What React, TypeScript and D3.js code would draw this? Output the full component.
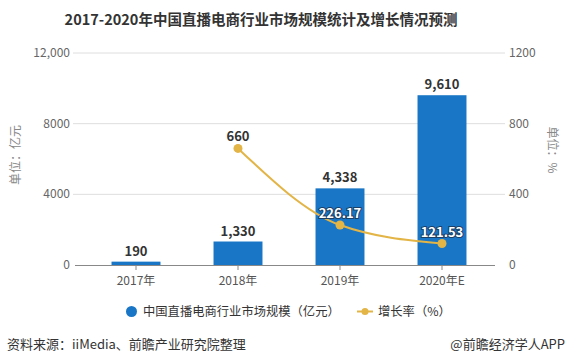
import React from 'react';
import * as d3 from 'd3';

const years = ['2017年', '2018年', '2019年', '2020年E'];
const marketSize = [190, 1330, 4338, 9610];
const growthYears = ['2018年', '2019年', '2020年E'];
const growthRate = [660, 226.17, 121.53];
const leftTicks = [0, 4000, 8000, 12000];
const leftTickLabels = ['0', '4000', '8000', '12,000'];
const rightTicks = [0, 400, 800, 1200];

const W = 567;
const H = 364;
const FONT = '"Noto Sans CJK SC", "Noto Sans", sans-serif';
const BLUE = '#1976c6';
const GOLD = '#e3b446';

const App = () => {
  const x = d3.scaleBand<string>()
    .domain(years)
    .range([85, 493])
    .paddingInner(0.52)
    .paddingOuter(0.26);
  const yLeft = d3.scaleLinear().domain([0, 12000]).range([265, 53]);
  const yRight = d3.scaleLinear().domain([0, 1200]).range([265, 53]);
  const cx = (d: string) => (x(d) as number) + x.bandwidth() / 2;

  const line = d3.line<number>()
    .x((d, i) => cx(growthYears[i]))
    .y(d => yRight(d))
    .curve(d3.curveMonotoneX);

  return (
    <svg width={W} height={H} style={{ position: 'absolute', left: 0, top: 0, background: '#fff' }} fontFamily={FONT}>
      <text x={261} y={25} textAnchor="middle" fontSize={14.5} fontWeight="bold" fill="#333">
        2017-2020年中国直播电商行业市场规模统计及增长情况预测
      </text>

      {/* grid + axis labels */}
      {leftTicks.map((t, i) => (
        <g key={t}>
          {i > 0 && <line x1={73} x2={505} y1={yLeft(t)} y2={yLeft(t)} stroke="#dedede" />}
          <text x={70} y={yLeft(t) + 4} textAnchor="end" fontSize={12} fill="#666">{leftTickLabels[i]}</text>
        </g>
      ))}
      {rightTicks.map(t => (
        <text key={t} x={509} y={yRight(t) + 4} fontSize={12} fill="#666">{t}</text>
      ))}

      <text transform="translate(20,155) rotate(-90)" textAnchor="middle" fontSize={12} fill="#888">单位：亿元</text>
      <text transform="translate(548,150) rotate(90)" textAnchor="middle" fontSize={12} fill="#888">单位：%</text>

      {/* bars */}
      {years.map((d, i) => (
        <g key={d}>
          <rect x={x(d)} y={yLeft(marketSize[i])} width={x.bandwidth()} height={265 - yLeft(marketSize[i])} fill={BLUE} />
          <text x={cx(d)} y={yLeft(marketSize[i]) - 6} textAnchor="middle" fontSize={13} fontWeight="bold" fill="#333">
            {d3.format(',')(marketSize[i])}
          </text>
        </g>
      ))}

      {/* x axis */}
      <line x1={75} x2={495} y1={265.5} y2={265.5} stroke="#888" />
      {years.map(d => (
        <g key={d}>
          <line x1={cx(d)} x2={cx(d)} y1={265} y2={270} stroke="#888" />
          <text x={cx(d)} y={285} textAnchor="middle" fontSize={12} fill="#555">{d}</text>
        </g>
      ))}

      {/* growth line */}
      <path d={line(growthRate) || ''} fill="none" stroke={GOLD} strokeWidth={2} />
      {growthRate.map((v, i) => (
        <g key={i}>
          <circle cx={cx(growthYears[i])} cy={yRight(v)} r={4.5} fill={GOLD} />
          <text
            x={cx(growthYears[i])}
            y={yRight(v) - 7}
            textAnchor="middle"
            fontSize={13}
            fontWeight="bold"
            fill={i === 0 ? '#333' : '#fff'}
            stroke={i === 0 ? 'none' : '#1c3f66'}
            strokeWidth={2}
            paintOrder="stroke"
          >
            {v}
          </text>
        </g>
      ))}

      {/* legend */}
      <circle cx={131.5} cy={311.5} r={5.5} fill={BLUE} />
      <text x={143} y={316} fontSize={12.3} fill="#333">中国直播电商行业市场规模（亿元）</text>
      <line x1={357} x2={373} y1={311.5} y2={311.5} stroke={GOLD} strokeWidth={2} />
      <circle cx={365} cy={311.5} r={3.5} fill={GOLD} />
      <text x={378} y={316} fontSize={12.3} fill="#333">增长率（%）</text>

      {/* footer */}
      <text x={7} y={349} fontSize={13} fill="#333">资料来源：iiMedia、前瞻产业研究院整理</text>
      <text x={565} y={349} textAnchor="end" fontSize={13} fill="#333">@前瞻经济学人APP</text>
    </svg>
  );
};

export default App;
